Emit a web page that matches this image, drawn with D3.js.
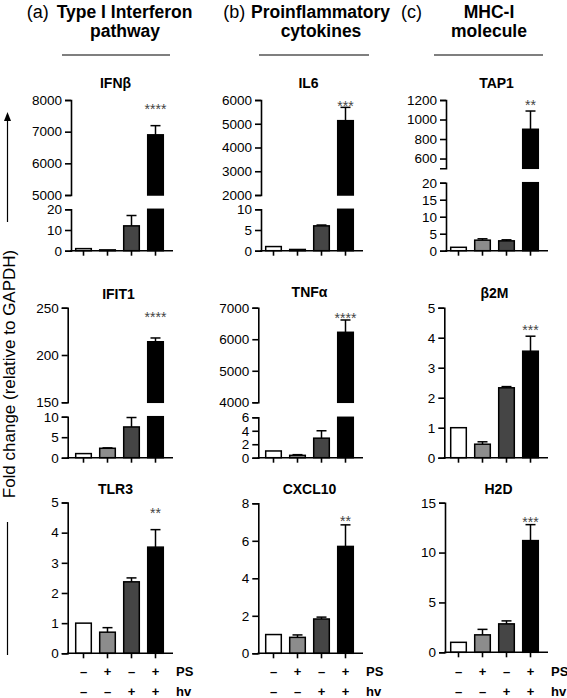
<!DOCTYPE html>
<html><head><meta charset="utf-8">
<script src="https://cdn.jsdelivr.net/npm/d3@7"></script>
<style>
body{margin:0;background:#fff}
svg{display:block}
text{font-family:"Liberation Sans",Arial,Helvetica,sans-serif}
</style>
</head><body>
<script>
// ---------- DATA ----------
const groups = ["ctrl", "PS", "hv", "PS+hv"];
const psRow = ["–", "+", "–", "+"];
const hvRow = ["–", "–", "+", "+"];
const barFills = ["#ffffff", "#8c8c8c", "#454545", "#000000"];

const ifnbMean = [1.0, 0.4, 12, 6900],   ifnbSD = [0, 0, 5, 290];
const il6Mean  = [1.0, 0.3, 6.0, 5130],  il6SD  = [0, 0, 0.2, 560];
const tap1Mean = [1.0, 3.1, 2.9, 900],   tap1SD = [0, 0.4, 0.3, 187];
const ifit1Mean= [1.0, 2.3, 7.5, 214],   ifit1SD= [0, 0.1, 2.3, 4];
const tnfMean  = [1.0, 0.35, 2.9, 6220], tnfSD  = [0, 0.1, 1.1, 390];
const b2mMean  = [1.0, 0.45, 2.33, 3.55],b2mSD  = [0, 0.08, 0.04, 0.5];
const tlr3Mean = [1.0, 0.7, 2.37, 3.52], tlr3SD = [0, 0.15, 0.13, 0.58];
const cxclMean = [1.0, 0.85, 1.83, 5.7], cxclSD = [0, 0.13, 0.1, 1.15];
const h2dMean  = [1.0, 1.75, 2.85, 11.2],h2dSD  = [0, 0.55, 0.3, 1.6];

const ifnbLowTicks = [0, 10, 20],  ifnbHighTicks = [5000, 6000, 7000, 8000];
const il6LowTicks  = [0, 5, 10],   il6HighTicks  = [2000, 3000, 4000, 5000, 6000];
const tap1LowTicks = [0, 5, 10, 15, 20], tap1HighDomain = [500, 1200], tap1HighTicks = [600, 800, 1000, 1200];
const ifit1LowTicks= [0, 5, 10],   ifit1HighTicks= [150, 200, 250];
const tnfLowTicks  = [0, 2, 4, 6], tnfHighTicks  = [4000, 5000, 6000, 7000];
const b2mTicks  = [0, 1, 2, 3, 4, 5];
const tlr3Ticks = [0, 1, 2, 3, 4, 5];
const cxclTicks = [0, 2, 4, 6, 8];
const h2dTicks  = [0, 5, 10, 15];

const stars   = ["****", "***", "**", "****", "****", "***", "**", "**", "***"];
const starsAt = [7810, 5886, 1182, 243, 6770, 4.37, 4.75, 7.23, 13.4];

const headers = [
  {tag: "(a)", l1: "Type I Interferon", l2: "pathway"},
  {tag: "(b)", l1: "Proinflammatory", l2: "cytokines"},
  {tag: "(c)", l1: "MHC-I", l2: "molecule"}
];
const yLabel = "Fold change (relative to GAPDH)";

// ---------- LAYOUT ----------
const W = 567, H = 698;
const svg = d3.select("body").append("svg").attr("width", W).attr("height", H);
const fmt = d3.format("d");

const panels = [
  {gene:"IFNβ", mean:ifnbMean, sd:ifnbSD, low:ifnbLowTicks, highDom:d3.extent(ifnbHighTicks), high:ifnbHighTicks,
   ax:71, xEnd:173, top:100, hb:195, lt:209.3, base:250.7, ty:87.5, tdx:-4},
  {gene:"IL6", mean:il6Mean, sd:il6SD, low:il6LowTicks, highDom:d3.extent(il6HighTicks), high:il6HighTicks,
   ax:261, xEnd:363, top:100, hb:195, lt:209.3, base:250.7, ty:87.5, tdx:-1},
  {gene:"TAP1", mean:tap1Mean, sd:tap1SD, low:tap1LowTicks, highDom:tap1HighDomain, high:tap1HighTicks,
   ax:446, xEnd:548, top:100, hb:168.3, lt:182.7, base:250.7, ty:87.5, tdx:2},
  {gene:"IFIT1", mean:ifit1Mean, sd:ifit1SD, low:ifit1LowTicks, highDom:d3.extent(ifit1HighTicks), high:ifit1HighTicks,
   ax:67.7, xEnd:173, top:307.7, hb:402.3, lt:416.7, base:457.7, ty:299, tdx:-1},
  {gene:"TNFα", mean:tnfMean, sd:tnfSD, low:tnfLowTicks, highDom:d3.extent(tnfHighTicks), high:tnfHighTicks,
   ax:258.3, xEnd:363, top:307.7, hb:402.3, lt:417.3, base:457.7, ty:297, tdx:0},
  {gene:"β2M", mean:b2mMean, sd:b2mSD, ticks:b2mTicks,
   ax:444.3, xEnd:548, top:307.7, base:457.7, ty:297.5, tdx:0},
  {gene:"TLR3", mean:tlr3Mean, sd:tlr3SD, ticks:tlr3Ticks,
   ax:67.7, xEnd:173, top:502.5, base:653.3, ty:494, tdx:-4},
  {gene:"CXCL10", mean:cxclMean, sd:cxclSD, ticks:cxclTicks,
   ax:258.3, xEnd:363, top:503.3, base:653.3, ty:493.5, tdx:0},
  {gene:"H2D", mean:h2dMean, sd:h2dSD, ticks:h2dTicks,
   ax:445, xEnd:548, top:502.7, base:652.3, ty:494, tdx:4}
];

const SW = 1.6;

panels.forEach((p, pi) => {
  const g = svg.append("g");
  const x = d3.scaleBand().domain(groups)
    .range([p.xEnd - 101.5, p.xEnd - 5.5]).paddingInner(0.35).paddingOuter(0.175);
  const bw = x.bandwidth();
  const cx = d => x(d) + bw / 2;

  // segments
  let segs;
  if (p.high) {
    const low = d3.scaleLinear().domain([0, d3.max(p.low)]).range([p.base, p.lt]);
    const high = d3.scaleLinear().domain(p.highDom).range([p.hb, p.top]);
    segs = [{s: low, ticks: p.low}, {s: high, ticks: p.high}];
  } else {
    segs = [{s: d3.scaleLinear().domain(d3.extent(p.ticks)).range([p.base, p.top]), ticks: p.ticks}];
  }
  const segOf = v => segs.find(sg => v >= sg.s.domain()[0] && v <= sg.s.domain()[1]) || segs[segs.length - 1];

  // bars
  groups.forEach((gr, i) => {
    const v = p.mean[i];
    const pieces = [];
    if (segs.length === 2 && v > segs[0].s.domain()[1]) {
      pieces.push([segs[0].s, 0, segs[0].s.domain()[1]]);
      pieces.push([segs[1].s, segs[1].s.domain()[0], v]);
    } else {
      pieces.push([segs[0].s, 0, v]);
    }
    pieces.forEach(([s, a, b]) => {
      g.append("rect")
        .attr("x", x(gr)).attr("width", bw)
        .attr("y", s(b)).attr("height", s(a) - s(b))
        .attr("fill", barFills[i]).attr("stroke", "#000").attr("stroke-width", 1.5);
    });
    // error bar
    if (p.sd[i] > 0) {
      const sg = segOf(v);
      const e = v + p.sd[i];
      const y0 = sg.s(v), y1 = sg.s(e);
      g.append("line").attr("x1", cx(gr)).attr("x2", cx(gr)).attr("y1", y0).attr("y2", y1)
        .attr("stroke", "#000").attr("stroke-width", 1.5);
      g.append("line").attr("x1", cx(gr) - 5).attr("x2", cx(gr) + 5).attr("y1", y1).attr("y2", y1)
        .attr("stroke", "#000").attr("stroke-width", 1.5);
    }
  });

  // y axes
  segs.forEach(sg => {
    const ag = g.append("g").attr("transform", `translate(${p.ax},0)`)
      .call(d3.axisLeft(sg.s).tickValues(sg.ticks).tickFormat(fmt).tickSize(6).tickSizeOuter(6).tickPadding(3));
    ag.selectAll("path,line").attr("stroke", "#000").attr("stroke-width", SW);
    ag.selectAll("text").attr("font-size", 13.5).attr("fill", "#000")
      .attr("font-family", '"Liberation Sans",Arial,sans-serif');
  });

  // x baseline + ticks
  g.append("line").attr("x1", p.ax - 0.8).attr("x2", p.xEnd).attr("y1", p.base).attr("y2", p.base)
    .attr("stroke", "#000").attr("stroke-width", SW);
  const xa = g.append("g").attr("transform", `translate(0,${p.base})`)
    .call(d3.axisBottom(x).tickSize(5).tickFormat(""));
  xa.select(".domain").remove();
  xa.selectAll("line").attr("stroke", "#000").attr("stroke-width", SW);

  // title
  const mid = (x.range()[0] + x.range()[1]) / 2;
  g.append("text").attr("x", mid + p.tdx).attr("y", p.ty).attr("text-anchor", "middle")
    .attr("font-size", 14).attr("font-weight", "bold").text(p.gene);

  // stars
  const sg4 = segOf(starsAt[pi]);
  g.append("text").attr("x", cx(groups[3])).attr("y", sg4.s(starsAt[pi]) + 8)
    .attr("text-anchor", "middle").attr("font-size", 14).attr("fill", "#444").text(stars[pi]);

  // PS / hv rows for bottom row
  if (pi >= 6) {
    groups.forEach((gr, i) => {
      g.append("text").attr("x", cx(gr)).attr("y", 675.5).attr("text-anchor", "middle")
        .attr("font-size", 13).attr("font-weight", "bold").text(psRow[i]);
      g.append("text").attr("x", cx(gr)).attr("y", 696).attr("text-anchor", "middle")
        .attr("font-size", 13).attr("font-weight", "bold").text(hvRow[i]);
    });
    g.append("text").attr("x", p.xEnd + 3).attr("y", 675.5).attr("font-size", 13).attr("font-weight", "bold").text("PS");
    g.append("text").attr("x", p.xEnd + 3).attr("y", 696).attr("font-size", 13).attr("font-weight", "bold").text("hv");
  }
});

// ---------- HEADERS ----------
const hdr = [
  {tagX: 26.7, l1X: 56.7, c: 125, lineX: [62, 170]},
  {tagX: 223.3, l1X: 251, c: 321, lineX: [259, 369]},
  {tagX: 401, l1X: null, c: 489, lineX: [434, 543]}
];
headers.forEach((h, i) => {
  const L = hdr[i];
  svg.append("text").attr("x", L.tagX).attr("y", 18).attr("font-size", 18).text(h.tag);
  const t1 = svg.append("text").attr("y", 18).attr("font-size", 17.5).attr("font-weight", "bold").text(h.l1);
  if (L.l1X !== null) t1.attr("x", L.l1X); else t1.attr("x", L.c).attr("text-anchor", "middle");
  svg.append("text").attr("x", L.c).attr("y", 37).attr("text-anchor", "middle")
    .attr("font-size", 17.5).attr("font-weight", "bold").text(h.l2);
  svg.append("line").attr("x1", L.lineX[0]).attr("x2", L.lineX[1]).attr("y1", 55).attr("y2", 55)
    .attr("stroke", "#000").attr("stroke-width", 1.2);
});

// ---------- Y LABEL ----------
svg.append("text").attr("transform", "translate(15,374) rotate(-90)")
  .attr("text-anchor", "middle").attr("font-size", 17).text(yLabel);
svg.append("line").attr("x1", 7.5).attr("x2", 7.5).attr("y1", 120).attr("y2", 222)
  .attr("stroke", "#000").attr("stroke-width", 1.2);
svg.append("path").attr("d", "M7.5,112 L4,121 L11,121 Z").attr("fill", "#000");
svg.append("line").attr("x1", 7.5).attr("x2", 7.5).attr("y1", 522).attr("y2", 655)
  .attr("stroke", "#000").attr("stroke-width", 1.2);
</script>
</body></html>
